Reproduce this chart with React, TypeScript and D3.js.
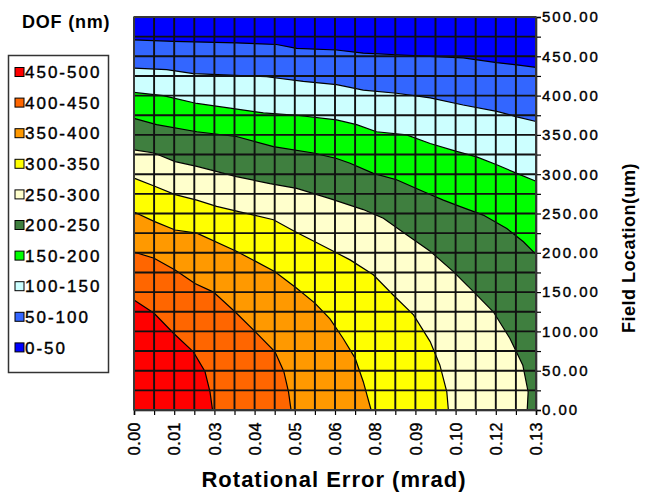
import * as d3 from 'd3';
import { useEffect, useRef } from 'react';

type Pt = [number, number];

// bands, lowest first
const bandLabels = ['0-50', '50-100', '100-150', '150-200', '200-250', '250-300', '300-350', '350-400', '400-450', '450-500'];
const bandColors = ['#0000ff', '#3366ff', '#ccffff', '#00ff00', '#3f7f3f', '#ffffcc', '#ffff00', '#ff9900', '#ff6600', '#ff0000'];

const xTickLabels = ['0.00', '0.01', '0.03', '0.04', '0.05', '0.06', '0.08', '0.09', '0.10', '0.12', '0.13'];
const yTickLabels = ['0.00', '50.00', '100.00', '150.00', '200.00', '250.00', '300.00', '350.00', '400.00', '450.00', '500.00'];

// contour lines: [rotational error (mrad), field location (um)]
const edge50: Pt[] = [[0, 471], [0.0125, 469], [0.0326, 467], [0.0454, 465], [0.0518, 460], [0.0645, 458], [0.073, 454], [0.0836, 452], [0.0943, 450], [0.1048, 448], [0.1155, 442], [0.1219, 439], [0.128, 436]];
const edge100: Pt[] = [[0, 435], [0.0104, 433], [0.0189, 428], [0.0306, 426], [0.0422, 424], [0.0539, 418], [0.0645, 414], [0.073, 407], [0.0836, 403], [0.0943, 397], [0.1048, 388], [0.1155, 380], [0.1219, 373], [0.128, 367]];
const edge150: Pt[] = [[0, 404], [0.0093, 400], [0.02, 390], [0.0306, 384], [0.0412, 378], [0.0518, 375], [0.0645, 369], [0.0709, 363], [0.0772, 354], [0.0868, 350], [0.0943, 339], [0.1027, 329], [0.1091, 322], [0.1155, 312], [0.1219, 301], [0.128, 291]];
const edge200: Pt[] = [[0, 371], [0.0072, 363], [0.02, 354], [0.0326, 348], [0.0444, 335], [0.0571, 327], [0.0645, 320], [0.0688, 314], [0.0762, 301], [0.0836, 293], [0.0921, 278], [0.0985, 267], [0.1037, 259], [0.1112, 248], [0.1187, 231], [0.124, 214], [0.128, 198]];
const edge250: Pt[] = [[0, 331], [0.0064, 327], [0.0131, 316], [0.02, 310], [0.0326, 297], [0.0433, 288], [0.0518, 282], [0.0624, 269], [0.073, 255], [0.0794, 244], [0.0868, 223], [0.0943, 202], [0.1017, 176], [0.108, 151], [0.1144, 125], [0.1197, 91], [0.1238, 57], [0.1255, 23], [0.1252, 0]];
const edge300: Pt[] = [[0, 295], [0.0064, 285], [0.0131, 274], [0.02, 267], [0.0263, 259], [0.0337, 252], [0.0444, 242], [0.0512, 227], [0.0576, 214], [0.0635, 202], [0.0688, 191], [0.0762, 172], [0.0826, 146], [0.089, 121], [0.0943, 87], [0.0974, 57], [0.0996, 23], [0.1001, 0]];
const edge350: Pt[] = [[0, 252], [0.0064, 240], [0.0131, 229], [0.02, 225], [0.0326, 202], [0.0449, 176], [0.0518, 155], [0.0576, 136], [0.0624, 116], [0.0666, 91], [0.0704, 66], [0.073, 36], [0.0755, 0]];
const edge400: Pt[] = [[0, 201], [0.0064, 193], [0.0131, 178], [0.0194, 161], [0.0253, 150], [0.0324, 124], [0.0385, 100], [0.0449, 74], [0.0477, 49], [0.0492, 23], [0.05, 0]];
const edge450: Pt[] = [[0, 140], [0.0064, 123], [0.0125, 98], [0.0189, 74], [0.0226, 49], [0.0242, 23], [0.025, 0]];

const edges = [edge50, edge100, edge150, edge200, edge250, edge300, edge350, edge400, edge450];

const FONT = 'Liberation Sans, Arial, sans-serif';

function App() {
    return <ContourChart />;
}

const ContourChart = () => {
    const svgRef = useRef<SVGSVGElement>(null);

    useEffect(() => {
        const w = 647;
        const h = 494;
        const left = 134;
        const right = 536;
        const top = 17;
        const bottom = 410;

        const svg = d3.select(svgRef.current).attr('width', w).attr('height', h);
        svg.selectAll('*').remove();

        const x = d3.scaleLinear().domain([0, 0.128]).range([left, right]);
        const y = d3.scaleLinear().domain([0, 500]).range([bottom, top]);
        const xGrid = d3.range(21).map((i) => (i * 0.128) / 20);
        const yGrid = d3.range(21).map((i) => i * 25);

        const line = d3
            .line<Pt>()
            .x((d) => x(d[0]))
            .y((d) => y(d[1]));

        // lowest band fills everything, higher bands drawn on top
        svg.append('rect')
            .attr('x', left)
            .attr('y', top)
            .attr('width', right - left)
            .attr('height', bottom - top)
            .attr('fill', bandColors[0]);

        edges.forEach((e, i) => {
            const last = e[e.length - 1];
            const poly: Pt[] = [...e, [last[0], 0], [0, 0]];
            svg.append('path')
                .attr('d', line(poly) + 'Z')
                .attr('fill', bandColors[i + 1]);
        });

        edges.forEach((e) => {
            svg.append('path')
                .attr('d', line(e))
                .attr('fill', 'none')
                .attr('stroke', '#000')
                .attr('stroke-width', 1.2);
        });

        // grid
        svg.append('g')
            .selectAll('line')
            .data(xGrid)
            .enter()
            .append('line')
            .attr('x1', (d) => x(d))
            .attr('x2', (d) => x(d))
            .attr('y1', top)
            .attr('y2', bottom)
            .attr('stroke', '#111')
            .attr('stroke-width', 1.9);
        svg.append('g')
            .selectAll('line')
            .data(yGrid)
            .enter()
            .append('line')
            .attr('x1', left)
            .attr('x2', right)
            .attr('y1', (d) => y(d))
            .attr('y2', (d) => y(d))
            .attr('stroke', '#111')
            .attr('stroke-width', 1.9);

        // axes
        const xAxis = d3
            .axisBottom(x)
            .tickValues(xGrid)
            .tickSize(5)
            .tickFormat((d, i) => (i % 2 === 0 ? xTickLabels[i / 2] : ''));
        const gx = svg.append('g').attr('transform', `translate(0, ${bottom})`).call(xAxis);
        gx.selectAll('text')
            .attr('transform', 'rotate(-90)')
            .attr('text-anchor', 'end')
            .attr('x', -12)
            .attr('y', 0)
            .attr('dy', '0.35em')
            .attr('font-size', 16)
            .attr('letter-spacing', 0.5);

        const yAxis = d3
            .axisRight(y)
            .tickValues(yGrid)
            .tickSize(5)
            .tickPadding(1)
            .tickFormat((d, i) => (i % 2 === 0 ? yTickLabels[i / 2] : ''));
        const gy = svg.append('g').attr('transform', `translate(${right}, 0)`).call(yAxis);
        gy.selectAll('text').attr('font-size', 15).attr('letter-spacing', 2);

        [gx, gy].forEach((g) => {
            g.attr('font-family', FONT);
            g.selectAll('text').attr('fill', '#000').attr('stroke', '#000').attr('stroke-width', 0.4);
            g.selectAll('line').attr('stroke', '#000').attr('stroke-width', 1.2);
            g.select('.domain').attr('stroke', '#000').attr('stroke-width', 1.5);
        });

        // frame
        svg.append('rect')
            .attr('x', left)
            .attr('y', top)
            .attr('width', right - left)
            .attr('height', bottom - top)
            .attr('fill', 'none')
            .attr('stroke', '#444')
            .attr('stroke-width', 1.5);

        // titles
        svg.append('text')
            .attr('x', 334)
            .attr('y', 487)
            .attr('text-anchor', 'middle')
            .attr('font-family', FONT)
            .attr('font-weight', 'bold')
            .attr('font-size', 22)
            .attr('letter-spacing', 1)
            .text('Rotational Error (mrad)');

        svg.append('text')
            .attr('transform', 'translate(635, 248) rotate(-90)')
            .attr('text-anchor', 'middle')
            .attr('font-family', FONT)
            .attr('font-weight', 'bold')
            .attr('font-size', 18)
            .attr('letter-spacing', 0.5)
            .text('Field Location(um)');

        svg.append('text')
            .attr('x', 22)
            .attr('y', 28)
            .attr('font-family', FONT)
            .attr('font-weight', 'bold')
            .attr('font-size', 18)
            .attr('letter-spacing', 0.8)
            .text('DOF (nm)');

        // legend
        const legend = svg.append('g');
        legend
            .append('rect')
            .attr('x', 8.5)
            .attr('y', 55.5)
            .attr('width', 100)
            .attr('height', 317)
            .attr('fill', '#fff')
            .attr('stroke', '#333')
            .attr('stroke-width', 1.5);

        const items = bandLabels.map((l, i) => ({ label: l, color: bandColors[i] })).reverse();
        const item = legend
            .selectAll('g.item')
            .data(items)
            .enter()
            .append('g')
            .attr('class', 'item')
            .attr('transform', (d, i) => `translate(0, ${72 + i * 30.6})`);
        item.append('rect')
            .attr('x', 15)
            .attr('y', -4.5)
            .attr('width', 9)
            .attr('height', 9)
            .attr('fill', (d) => d.color)
            .attr('stroke', '#000')
            .attr('stroke-width', 1);
        item.append('text')
            .attr('x', 25)
            .attr('dy', '0.36em')
            .attr('font-family', FONT)
            .attr('font-size', 17)
            .attr('letter-spacing', 2)
            .attr('stroke', '#000')
            .attr('stroke-width', 0.4)
            .text((d) => d.label);
    }, []);

    return (
        <svg
            ref={svgRef}
            style={{ position: 'absolute', left: 0, top: 0, background: '#fff' }}
        ></svg>
    );
};

export default App;
